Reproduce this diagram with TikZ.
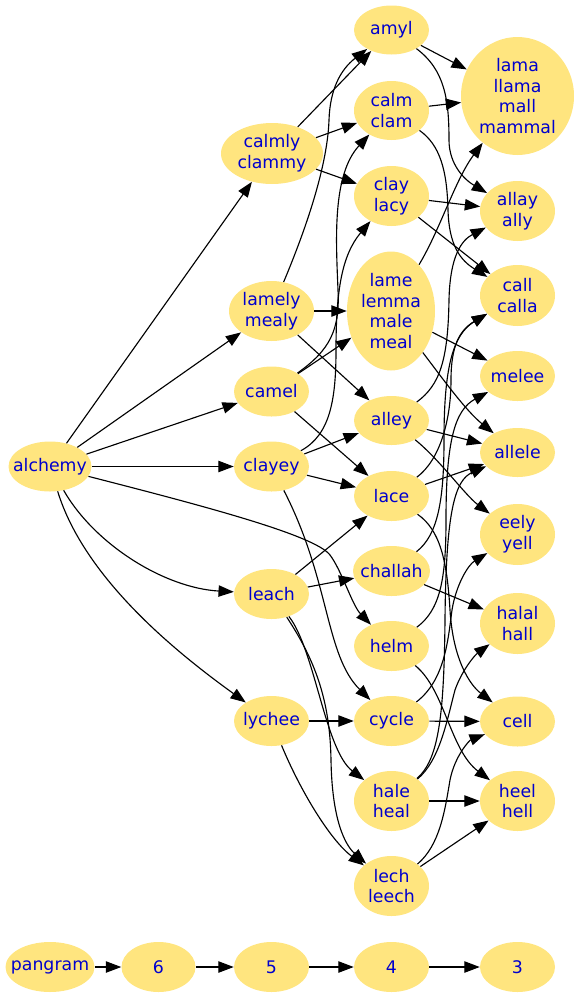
\documentclass[tikz,border=0pt]{standalone}
\usepackage{fontspec}
\setmainfont{DejaVu Sans}
\usetikzlibrary{arrows.meta,shapes.geometric}
\definecolor{nfill}{RGB}{255,229,127}
\definecolor{ntext}{RGB}{0,0,205}
\newcommand{\wnode}[6]{%
  \node[nd, minimum width=#4*0.75pt, minimum height=#5*0.75pt] (#1) at (#2,#3) {};
  \node[txt] (#1-t) at (#1.center) {#6};}
\begin{document}
\begin{tikzpicture}[x=0.75pt, y=-0.75pt,
  nd/.style={ellipse, fill=nfill, draw=none, inner sep=0pt},
  txt/.style={text=ntext, align=center, inner sep=0pt, font=\fontsize{13}{15.7}\selectfont},
  edge/.style={draw=black, line width=0.85pt, -{Triangle[length=11.5pt,width=8.5pt]}}]
\useasboundingbox (0,0) rectangle (580,997);
% column 0
\wnode{alchemy}{50}{466.5}{83}{50}{alchemy}
% column 1
\wnode{calmly}{272}{153.5}{102}{61}{calmly\\clammy}
\wnode{lamely}{271.5}{311}{85}{60}{lamely\\mealy}
\wnode{camel}{271.5}{391.5}{75}{50}{camel}
\wnode{clayey}{271.5}{466.5}{75}{50}{clayey}
\wnode{leach}{271.5}{594}{75}{50}{leach}
\wnode{lychee}{271.5}{721}{75}{50}{lychee}
% column 2
\wnode{amyl}{391.5}{30}{75}{49}{amyl}
\wnode{calm}{391.5}{110.5}{75}{59}{calm\\clam}
\wnode{clay}{391.5}{196}{75}{60}{clay\\lacy}
\wnode{lame}{391}{311}{88}{119}{lame\\lemma\\male\\meal}
\wnode{alley}{391.5}{420.5}{75}{49}{alley}
\wnode{lace}{391.5}{496}{75}{50}{lace}
\wnode{challah}{391.5}{571}{77}{50}{challah}
\wnode{helm}{391.5}{646}{75}{50}{helm}
\wnode{cycle}{391.5}{721}{75}{50}{cycle}
\wnode{hale}{391.5}{801}{75}{60}{hale\\heal}
\wnode{lech}{391.5}{886}{75}{60}{lech\\leech}
% column 3
\wnode{lama}{517.5}{96}{113}{118}{lama\\llama\\mall\\mammal}
\wnode{allay}{517.5}{211}{75}{60}{allay\\ally}
\wnode{call}{517.5}{295.5}{75}{61}{call\\calla}
\wnode{melee}{517.5}{376}{75}{50}{melee}
\wnode{allele}{517.5}{452.5}{75}{49}{allele}
\wnode{eely}{517.5}{534.5}{75}{61}{eely\\yell}
\wnode{halal}{517.5}{623.5}{75}{61}{halal\\hall}
\wnode{cell}{517.5}{721.5}{75}{50}{cell}
\wnode{heel}{517.5}{801}{75}{60}{heel\\hell}
% rank row
\wnode{pangram}{50}{967}{89}{50}{pangram}
\wnode{r6}{158.5}{967}{74}{50}{6}
\wnode{r5}{271.5}{967}{75}{50}{5}
\wnode{r4}{391.5}{967}{75}{50}{4}
\wnode{r3}{517.5}{967}{75}{50}{3}
% edges from alchemy
\draw[edge] (alchemy) -- (calmly);
\draw[edge] (alchemy) -- (lamely);
\draw[edge] (alchemy) -- (camel);
\draw[edge] (alchemy) -- (clayey);
\draw[edge] (alchemy) .. controls (95,545) and (165,588) .. (leach);
\draw[edge] (alchemy) .. controls (85,580) and (180,655) .. (lychee);
\draw[edge] (alchemy) .. controls (200,505) and (315,535) .. (330,555) .. controls (342,571) and (352,605) .. (helm);
% column 1 -> column 2
\draw[edge] (calmly) -- (amyl);
\draw[edge] (calmly) -- (calm);
\draw[edge] (calmly) -- (clay);
\draw[edge] (lamely) .. controls (318,200) and (328,150) .. (329,120) .. controls (330,90) and (340,70) .. (amyl);
\draw[edge] (lamely) -- (lame);
\draw[edge] (lamely) -- (alley);
\draw[edge] (camel) .. controls (330,350) and (340,330) .. (338,290) .. controls (336,240) and (332,175) .. (calm);
\draw[edge] (camel) -- (lame);
\draw[edge] (camel) -- (lace);
\draw[edge] (clayey) .. controls (330,435) and (336,400) .. (336,350) .. controls (336,290) and (342,255) .. (clay);
\draw[edge] (clayey) -- (alley);
\draw[edge] (clayey) -- (lace);
\draw[edge] (clayey) .. controls (330,580) and (325,655) .. (cycle);
\draw[edge] (leach) -- (lace);
\draw[edge] (leach) -- (challah);
\draw[edge] (leach) .. controls (315,650) and (325,750) .. (hale);
\draw[edge] (leach) .. controls (315,660) and (330,700) .. (331,760) .. controls (332,820) and (345,845) .. (lech);
\draw[edge] (lychee) -- (cycle);
\draw[edge] (lychee) .. controls (300,790) and (330,840) .. (lech);
% column 2 -> column 3
\draw[edge] (amyl) -- (lama);
\draw[edge] (amyl) .. controls (445,70) and (449,100) .. (449,140) .. controls (449,165) and (465,180) .. (allay);
\draw[edge] (calm) -- (lama);
\draw[edge] (calm) .. controls (440,145) and (447,170) .. (448,210) .. controls (449,245) and (460,260) .. (call);
\draw[edge] (clay) -- (allay);
\draw[edge] (clay) -- (call);
\draw[edge] (lame) .. controls (440,230) and (455,180) .. (lama);
\draw[edge] (lame) -- (melee);
\draw[edge] (lame) .. controls (440,375) and (465,410) .. (allele);
\draw[edge] (alley) .. controls (440,385) and (448,360) .. (449,300) .. controls (450,255) and (462,240) .. (allay);
\draw[edge] (alley) -- (allele);
\draw[edge] (alley) .. controls (440,460) and (465,495) .. (eely);
\draw[edge] (lace) .. controls (440,460) and (451,420) .. (451,380) .. controls (451,345) and (460,330) .. (call);
\draw[edge] (lace) -- (allele);
\draw[edge] (lace) .. controls (440,530) and (447,560) .. (450,610) .. controls (453,660) and (470,685) .. (cell);
\draw[edge] (challah) .. controls (438,535) and (444,500) .. (444,440) .. controls (444,370) and (452,335) .. (call);
\draw[edge] (challah) -- (halal);
\draw[edge] (helm) .. controls (440,610) and (446,580) .. (446,520) .. controls (446,440) and (455,410) .. (melee);
\draw[edge] (helm) .. controls (445,690) and (450,750) .. (heel);
\draw[edge] (cycle) .. controls (445,680) and (448,640) .. (452,610) .. controls (456,585) and (468,565) .. (eely);
\draw[edge] (cycle) -- (cell);
\draw[edge] (hale) .. controls (438,760) and (444,720) .. (445,620) .. controls (446,510) and (455,480) .. (allele);
\draw[edge] (hale) .. controls (440,760) and (447,720) .. (455,690) .. controls (462,670) and (475,655) .. (halal);
\draw[edge] (hale) -- (heel);
\draw[edge] (lech) .. controls (440,845) and (445,810) .. (450,780) .. controls (455,755) and (470,740) .. (cell);
\draw[edge] (lech) -- (heel);
% rank chain
\draw[edge] (pangram) -- (r6);
\draw[edge] (r6) -- (r5);
\draw[edge] (r5) -- (r4);
\draw[edge] (r4) -- (r3);
\end{tikzpicture}
\end{document}
